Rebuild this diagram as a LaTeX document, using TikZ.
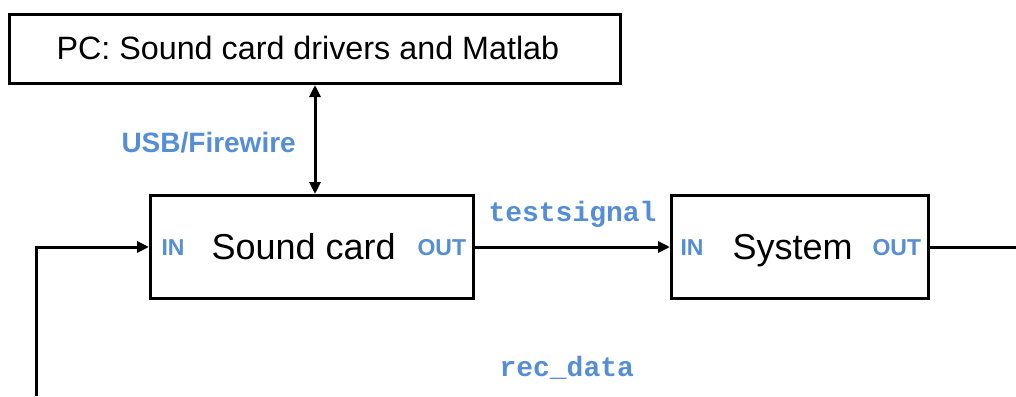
\documentclass[tikz,border=0pt]{standalone}
\usepackage{fontspec}
\setmainfont{Liberation Sans}
\newfontfamily\codefont{Liberation Mono}
\usetikzlibrary{arrows.meta}
\definecolor{labelblue}{RGB}{85,142,213}
\begin{document}
\begin{tikzpicture}[x=1pt,y=-1pt,
  line width=3pt,
  blockbox/.style={draw=black,line width=3pt,fill=white,inner sep=0pt,anchor=north west},
  txt/.style={inner sep=0pt,anchor=base west},
  bigtxt/.style={txt,font=\fontsize{36}{40}\selectfont},
  pctxt/.style={txt,font=\fontsize{32.3}{36}\selectfont},
  portlbl/.style={txt,text=labelblue,font=\fontsize{23}{26}\selectfont\bfseries},
  buslbl/.style={txt,text=labelblue,font=\fontsize{28}{30}\selectfont\bfseries},
  codelbl/.style={txt,text=labelblue,font=\fontsize{28}{30}\selectfont\codefont\bfseries},
  tip/.style={-{Triangle[length=12pt,width=11pt]}},
  dtip/.style={{Triangle[length=12pt,width=11pt]}-{Triangle[length=12pt,width=11pt]}}]
\useasboundingbox (0,0) rectangle (1016,396);

% blocks
\node[blockbox,minimum width=611pt,minimum height=69pt] (pc) at (8,13) {};
\node[blockbox,minimum width=323pt,minimum height=103pt] (sc) at (149,194) {};
\node[blockbox,minimum width=257pt,minimum height=103pt] (sys) at (670,194) {};

% block texts
\node[pctxt] (pct) at (55,59.5) {PC: Sound card drivers and Matlab};
\node[bigtxt] (sct) at (210,259) {Sound card};
\node[bigtxt] (syst) at (731,259) {System};
\node[portlbl] (scin) at (160,255) {IN};
\node[portlbl] (scout) at (416,255) {OUT};
\node[portlbl] (sysin) at (679,255) {IN};
\node[portlbl] (sysout) at (871,255) {OUT};

% connector labels
\node[buslbl] (usb) at (120,152) {USB/Firewire};
\node[codelbl] (ts) at (487,221) {testsignal};
\node[codelbl] (rd) at (498,376) {rec\_data};

% connectors
\coordinate (busx) at (315,0);
\coordinate (outend) at (1016,0);
\coordinate (fbstart) at (36,396);
\draw[dtip] (pc.south -| busx) -- (sc.north -| busx);
\draw[tip] (sc.east) -- (sys.west);
\draw (sys.east) -- (sys.east -| outend);
\draw[tip] (fbstart) |- (sc.west);
\end{tikzpicture}
\end{document}
